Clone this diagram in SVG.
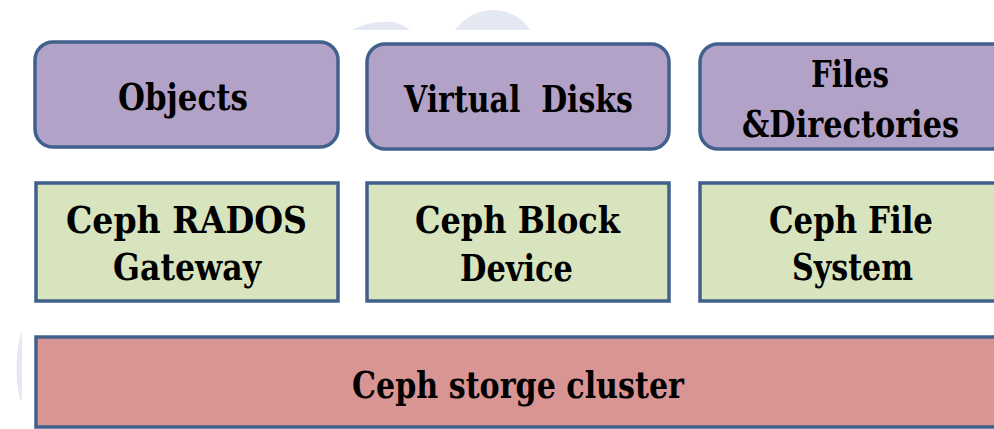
<svg xmlns="http://www.w3.org/2000/svg" width="994" height="429" viewBox="0 0 994 429">
<style>
.box{stroke:#41618c;stroke-width:3.5}
.top{fill:#b3a2c7}
.mid{fill:#d7e4bd}
.base{fill:#d99594}
text{font-family:"DejaVu Serif","Liberation Serif",serif;font-weight:bold;font-size:37px;fill:#000;text-anchor:middle}
.wm{fill:#e3e8f3}
</style>
<rect width="994" height="429" fill="#fff"/>
<g id="watermark">
<path class="wm" d="M352,30 Q370,20 395,22 Q405,26 410,30 Z"/>
<path class="wm" d="M455,30 Q470,10 495,10 Q520,12 530,30 Z"/>
<path class="wm" d="M22,330 Q12,365 20,400 L22,400 Z"/>
</g>
<g id="objects">
<rect class="box top" x="35" y="42" width="303" height="105" rx="18"/>
<text x="183" y="110" textLength="130" lengthAdjust="spacingAndGlyphs">Objects</text>
</g>
<g id="virtual-disks">
<rect class="box top" x="367" y="44" width="302" height="105" rx="18"/>
<text x="518.5" y="112" textLength="229" lengthAdjust="spacingAndGlyphs" xml:space="preserve">Virtual  Disks</text>
</g>
<g id="files-directories">
<rect class="box top" x="700" y="44" width="320" height="105" rx="18"/>
<text x="850" y="87" textLength="78" lengthAdjust="spacingAndGlyphs">Files</text>
<text x="850.5" y="137" textLength="217" lengthAdjust="spacingAndGlyphs">&amp;Directories</text>
</g>
<g id="rados-gateway">
<rect class="box mid" x="36" y="183" width="302" height="118"/>
<text x="186.5" y="233" textLength="241" lengthAdjust="spacingAndGlyphs">Ceph RADOS</text>
<text x="187" y="280" textLength="148" lengthAdjust="spacingAndGlyphs">Gateway</text>
</g>
<g id="block-device">
<rect class="box mid" x="367" y="183" width="302" height="118"/>
<text x="517.5" y="233" textLength="205" lengthAdjust="spacingAndGlyphs">Ceph Block</text>
<text x="516.5" y="281" textLength="113" lengthAdjust="spacingAndGlyphs">Device</text>
</g>
<g id="file-system">
<rect class="box mid" x="700" y="183" width="320" height="118"/>
<text x="851" y="233" textLength="164" lengthAdjust="spacingAndGlyphs">Ceph File</text>
<text x="852.5" y="280" textLength="121" lengthAdjust="spacingAndGlyphs">System</text>
</g>
<g id="storage-cluster">
<rect class="box base" x="36" y="337" width="990" height="90"/>
<text x="518" y="398" textLength="332" lengthAdjust="spacingAndGlyphs">Ceph storge cluster</text>
</g>
<g id="connectors"/>
</svg>
